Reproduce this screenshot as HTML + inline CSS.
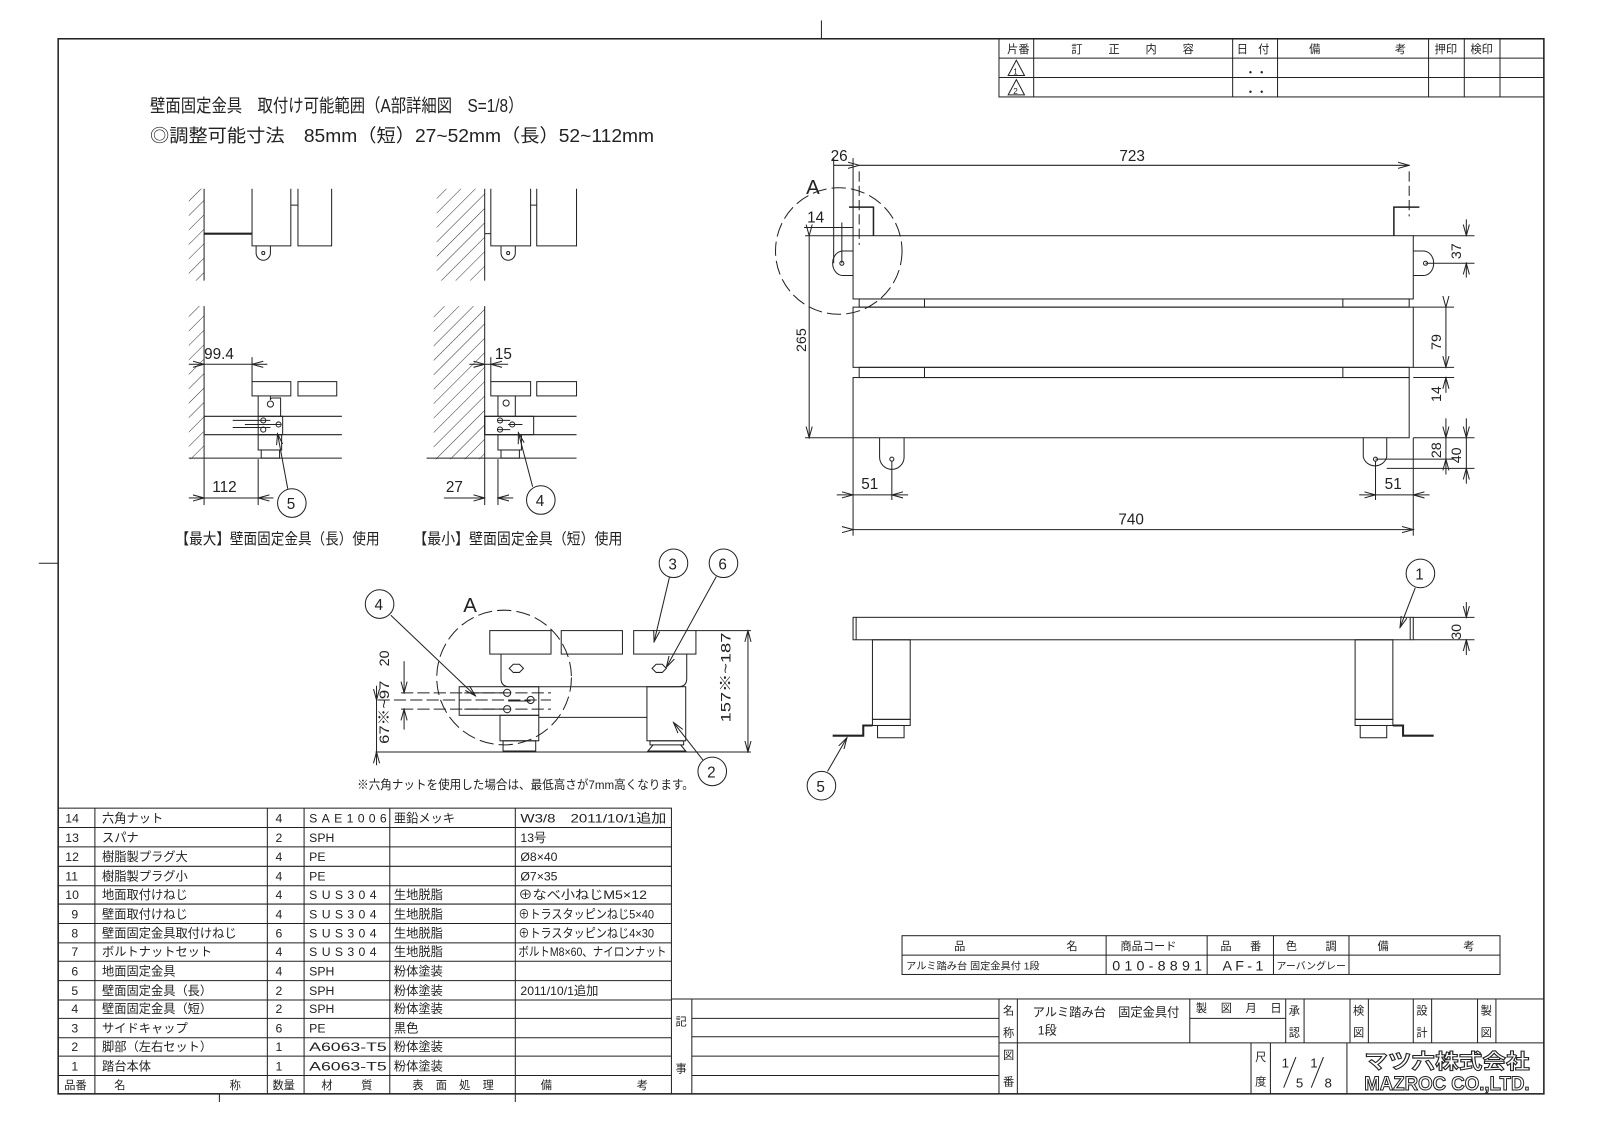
<!DOCTYPE html>
<html><head><meta charset="utf-8"><style>
html,body{margin:0;padding:0;background:#fff;}
svg{display:block;}
text{font-family:"Liberation Sans","Noto Sans CJK JP",sans-serif;fill:#222;}
</style></head><body>
<svg width="1600" height="1131" viewBox="0 0 1568 1108.4" preserveAspectRatio="none" xmlns="http://www.w3.org/2000/svg">
<defs>
<marker id="a" markerWidth="12" markerHeight="8" refX="11" refY="4" orient="auto" markerUnits="userSpaceOnUse"><path d="M0,1 L11,4 L0,7" fill="none" stroke="#222" stroke-width="1"/></marker>
<pattern id="h" width="10" height="10" patternUnits="userSpaceOnUse" patternTransform="rotate(45)"><line x1="0" y1="0" x2="0" y2="10" stroke="#333" stroke-width="1"/></pattern>
</defs>
<g stroke="#222" fill="none" stroke-width="1">
<rect x="57" y="38" width="1456" height="1034" stroke-width="1.5"/>
<line x1="38" y1="552" x2="57" y2="552"/>
<line x1="805" y1="20" x2="805" y2="38"/>
<rect x="979" y="38" width="534" height="57"/>
<line x1="979" y1="57" x2="1513" y2="57"/><line x1="979" y1="76" x2="1513" y2="76"/>
<line x1="1013" y1="38" x2="1013" y2="95"/><line x1="1208" y1="38" x2="1208" y2="95"/><line x1="1252" y1="38" x2="1252" y2="95"/><line x1="1400" y1="38" x2="1400" y2="95"/><line x1="1435" y1="38" x2="1435" y2="95"/><line x1="1470" y1="38" x2="1470" y2="95"/>
<path d="M996,59 L988,74 L1004,74 Z"/><path d="M996,78 L988,93 L1004,93 Z"/>
<rect x="57" y="792" width="601" height="280"/>
<g>
<line x1="57" y1="811" x2="658" y2="811"/><line x1="57" y1="830" x2="658" y2="830"/><line x1="57" y1="849" x2="658" y2="849"/><line x1="57" y1="868" x2="658" y2="868"/><line x1="57" y1="886" x2="658" y2="886"/><line x1="57" y1="905" x2="658" y2="905"/><line x1="57" y1="924" x2="658" y2="924"/><line x1="57" y1="942" x2="658" y2="942"/><line x1="57" y1="961" x2="658" y2="961"/><line x1="57" y1="980" x2="658" y2="980"/><line x1="57" y1="998" x2="658" y2="998"/><line x1="57" y1="1017" x2="658" y2="1017"/><line x1="57" y1="1035" x2="658" y2="1035"/><line x1="57" y1="1054" x2="658" y2="1054"/>
</g>
<line x1="93" y1="792" x2="93" y2="1072"/><line x1="262" y1="792" x2="262" y2="1072"/><line x1="298" y1="792" x2="298" y2="1072"/><line x1="382" y1="792" x2="382" y2="1072"/><line x1="505" y1="792" x2="505" y2="1072"/>
<line x1="215" y1="1072" x2="215" y2="1080"/><line x1="505" y1="1072" x2="505" y2="1080"/>
<line x1="658" y1="979" x2="979" y2="979"/><line x1="678" y1="979" x2="678" y2="1072"/>
<line x1="678" y1="998" x2="979" y2="998"/><line x1="678" y1="1016" x2="979" y2="1016"/><line x1="678" y1="1035" x2="979" y2="1035"/><line x1="678" y1="1054" x2="979" y2="1054"/>
<rect x="884" y="917" width="586" height="38"/><line x1="884" y1="936" x2="1470" y2="936"/>
<line x1="1084" y1="917" x2="1084" y2="955"/><line x1="1183" y1="917" x2="1183" y2="955"/><line x1="1248" y1="917" x2="1248" y2="955"/><line x1="1322" y1="917" x2="1322" y2="955"/>
<rect x="979" y="979" width="534" height="93"/>
<line x1="979" y1="1022" x2="1513" y2="1022"/>
<line x1="997" y1="979" x2="997" y2="1072"/>
<line x1="1166" y1="979" x2="1166" y2="1022"/><line x1="1166" y1="998" x2="1260" y2="998"/>
<line x1="1260" y1="979" x2="1260" y2="1022"/><line x1="1278" y1="979" x2="1278" y2="1022"/><line x1="1323" y1="979" x2="1323" y2="1022"/><line x1="1341" y1="979" x2="1341" y2="1022"/><line x1="1385" y1="979" x2="1385" y2="1022"/><line x1="1403" y1="979" x2="1403" y2="1022"/><line x1="1448" y1="979" x2="1448" y2="1022"/><line x1="1466" y1="979" x2="1466" y2="1022"/>
<line x1="1226" y1="1022" x2="1226" y2="1072"/><line x1="1245" y1="1022" x2="1245" y2="1072"/><line x1="1320" y1="1022" x2="1320" y2="1072"/>
<line x1="1258" y1="1066" x2="1270" y2="1036"/><line x1="1285" y1="1066" x2="1297" y2="1036"/>

<rect x="185" y="185" width="15" height="90" fill="url(#h)" stroke="none"/>
<line x1="200" y1="185" x2="200" y2="275"/>
<line x1="200" y1="229" x2="247" y2="229" stroke-width="2"/>
<path d="M247,185 V241 H285 V185 M285,201 H292 M292,185 V241 H325 V185" />
<path d="M251,241 V248 A7,7 0 0 0 265,248 V241"/><circle cx="258" cy="248" r="1.5"/>
<rect x="428" y="185" width="47" height="90" fill="url(#h)" stroke="none"/>
<line x1="475" y1="185" x2="475" y2="275"/><line x1="475" y1="229" x2="481" y2="229"/>
<path d="M481,185 V241 H520 V185 M520,201 H526 M526,185 V241 H565 V185"/>
<path d="M491,241 V248 A7,7 0 0 0 505,248 V241"/><circle cx="498" cy="248" r="1.5"/>

<rect x="185" y="300" width="15" height="150" fill="url(#h)" stroke="none"/>
<line x1="200" y1="300" x2="200" y2="450"/>
<line x1="185" y1="449" x2="335" y2="449"/>
<rect x="247" y="374" width="38" height="14"/><rect x="292" y="374" width="38" height="14"/>
<path d="M253,388 V408 M265,388 V392 A2,2 0 0 1 267,390 H275 V408"/>
<circle cx="265" cy="396" r="3"/>
<path d="M200,408 H335 M200,426 H335 M200,408 V426"/>
<rect x="253" y="408" width="24" height="18"/>
<path d="M228,412 H265 M228,419 H265 M240,416 H275"/>
<circle cx="258" cy="412" r="2.5"/><circle cx="258" cy="421" r="2.5"/><circle cx="273" cy="416" r="2.5"/>
<rect x="253" y="426" width="23" height="15"/><rect x="256" y="441" width="18" height="8"/>
<line x1="185" y1="357" x2="200" y2="357" marker-end="url(#a)"/><line x1="200" y1="357" x2="247" y2="357"/><line x1="262" y1="357" x2="247" y2="357" marker-end="url(#a)"/>
<line x1="247" y1="350" x2="247" y2="374"/>
<line x1="200" y1="450" x2="200" y2="495"/><line x1="253" y1="450" x2="253" y2="495"/>
<line x1="185" y1="488" x2="200" y2="488" marker-end="url(#a)"/><line x1="200" y1="488" x2="253" y2="488"/><line x1="268" y1="488" x2="253" y2="488" marker-end="url(#a)"/>
<line x1="282" y1="479" x2="272" y2="425" marker-end="url(#a)"/>
<circle cx="286" cy="493" r="14"/>

<rect x="425" y="300" width="50" height="150" fill="url(#h)" stroke="none"/>
<line x1="475" y1="300" x2="475" y2="450"/>
<line x1="418" y1="449" x2="565" y2="449"/>
<rect x="481" y="374" width="39" height="14"/><rect x="526" y="374" width="39" height="14"/>
<path d="M488,388 V408 M505,388 V408"/><circle cx="496" cy="395" r="3"/>
<path d="M475,408 H565 M475,426 H565 M475,408 V426"/>
<rect x="475" y="408" width="48" height="18"/>
<path d="M488,412 H500 M488,421 H500 M498,416 H512"/>
<circle cx="490" cy="412" r="2.5"/><circle cx="490" cy="421" r="2.5"/><circle cx="502" cy="416" r="2.5"/>
<rect x="488" y="426" width="23" height="15"/><rect x="491" y="441" width="18" height="8"/>
<line x1="460" y1="357" x2="475" y2="357" marker-end="url(#a)"/><line x1="498" y1="357" x2="481" y2="357" marker-end="url(#a)"/><line x1="481" y1="350" x2="481" y2="374"/><line x1="475" y1="357" x2="481" y2="357"/>
<line x1="475" y1="450" x2="475" y2="495"/><line x1="488" y1="450" x2="488" y2="495"/>
<line x1="435" y1="488" x2="475" y2="488" marker-end="url(#a)"/><line x1="503" y1="488" x2="488" y2="488" marker-end="url(#a)"/>
<line x1="522" y1="477" x2="508" y2="424" marker-end="url(#a)"/>
<circle cx="530" cy="490" r="14"/>

<rect x="480" y="618" width="60" height="23"/><rect x="550" y="618" width="60" height="23"/><rect x="621" y="618" width="61" height="23"/>
<path d="M491,641 V665 Q491,673 499,673 H665 Q673,673 673,665 V641"/>
<path d="M499,655 l4,-4 h6 l4,4 l-4,4 h-6z"/><path d="M639,655 l4,-4 h6 l4,4 l-4,4 h-6z"/>
<rect x="450" y="673" width="78" height="28"/>
<line x1="528" y1="703" x2="634" y2="703"/>
<rect x="490" y="701" width="38" height="25"/><rect x="493" y="726" width="32" height="10"/>
<rect x="634" y="673" width="38" height="53"/><rect x="637" y="726" width="33" height="4"/><path d="M640,730 L635,736 H672 L667,730"/>
<line x1="368" y1="737" x2="736" y2="737"/><line x1="682" y1="618" x2="736" y2="618"/>
<path d="M455,679 H494 M455,695 H494 M498,687 H520"/>
<circle cx="497" cy="679" r="3.5"/><circle cx="520" cy="686" r="3.5"/><circle cx="497" cy="695" r="3.5"/>
<line x1="393" y1="679" x2="540" y2="679" stroke-dasharray="12,4"/><line x1="393" y1="695" x2="540" y2="695" stroke-dasharray="12,4"/><line x1="370" y1="686" x2="540" y2="686" stroke-dasharray="12,4"/>
<circle cx="494" cy="664" r="66" stroke-dasharray="14,5"/>
<line x1="396" y1="648" x2="396" y2="679" marker-end="url(#a)"/><line x1="396" y1="715" x2="396" y2="695" marker-end="url(#a)"/>
<line x1="369" y1="686" x2="369" y2="737"/><line x1="369" y1="672" x2="369" y2="686" marker-end="url(#a)"/><line x1="369" y1="750" x2="369" y2="737" marker-end="url(#a)"/>
<line x1="733" y1="678" x2="733" y2="618" marker-end="url(#a)"/><line x1="733" y1="678" x2="733" y2="737" marker-end="url(#a)"/>
<line x1="383" y1="603" x2="466" y2="682" marker-end="url(#a)"/><circle cx="372" cy="592" r="14"/>
<line x1="656" y1="566" x2="641" y2="629" marker-end="url(#a)"/><circle cx="660" cy="552" r="14"/>
<line x1="702" y1="565" x2="653" y2="654" marker-end="url(#a)"/><circle cx="709" cy="552" r="14"/>
<line x1="689" y1="745" x2="660" y2="708" marker-end="url(#a)"/><circle cx="698" cy="756" r="14"/>

<rect x="836" y="231" width="549" height="62"/>
<rect x="842" y="293" width="539" height="8"/><line x1="906" y1="293" x2="906" y2="301"/><line x1="1316" y1="293" x2="1316" y2="301"/>
<rect x="836" y="301" width="549" height="59"/>
<rect x="842" y="360" width="539" height="10"/><line x1="906" y1="360" x2="906" y2="370"/><line x1="1316" y1="360" x2="1316" y2="370"/>
<rect x="836" y="370" width="545" height="59"/>
<path d="M832,203 H856 V231" stroke-width="1.5"/><path d="M1366,231 V203 H1391" stroke-width="1.5"/>
<line x1="842" y1="168" x2="842" y2="240" stroke-dasharray="10,4"/><line x1="1381" y1="168" x2="1381" y2="212" stroke-dasharray="10,4"/>
<path d="M836,246 H826 A10,12 0 0 0 826,270 H836"/><circle cx="825" cy="258" r="2"/>
<path d="M1385,246 H1395 A10,12 0 0 1 1395,270 H1385"/><circle cx="1397" cy="258" r="2"/>
<path d="M862,429 V448 A12,12 0 0 0 886,448 V429"/><circle cx="874" cy="450" r="2"/>
<path d="M1336,429 V448 A12,12 0 0 0 1359,448 V429"/><circle cx="1348" cy="450" r="2"/>
<circle cx="822" cy="246" r="62" stroke-dasharray="14,5"/>
<line x1="817" y1="155" x2="817" y2="258"/><line x1="836" y1="155" x2="836" y2="231"/>
<line x1="817" y1="162" x2="836" y2="162"/><line x1="842" y1="162" x2="1381" y2="162" marker-start="url(#a)" marker-end="url(#a)"/>
<line x1="788" y1="223" x2="836" y2="223"/><line x1="825" y1="218" x2="825" y2="258"/>
<line x1="789" y1="231" x2="836" y2="231"/><line x1="789" y1="429" x2="836" y2="429"/>
<line x1="793" y1="231" x2="793" y2="429" marker-start="url(#a)" marker-end="url(#a)"/>
<line x1="1385" y1="231" x2="1445" y2="231"/><line x1="1397" y1="258" x2="1445" y2="258"/>
<line x1="1437" y1="215" x2="1437" y2="231" marker-end="url(#a)"/><line x1="1437" y1="272" x2="1437" y2="258" marker-end="url(#a)"/>
<line x1="1385" y1="301" x2="1425" y2="301"/><line x1="1385" y1="360" x2="1425" y2="360"/><line x1="1385" y1="370" x2="1425" y2="370"/>
<line x1="1417" y1="301" x2="1417" y2="360" marker-start="url(#a)" marker-end="url(#a)"/>
<line x1="1417" y1="385" x2="1417" y2="370" marker-end="url(#a)"/>
<line x1="1385" y1="429" x2="1445" y2="429"/><line x1="1348" y1="450" x2="1425" y2="450"/><line x1="1359" y1="459" x2="1445" y2="459"/>
<line x1="1417" y1="410" x2="1417" y2="429" marker-end="url(#a)"/><line x1="1417" y1="429" x2="1417" y2="450"/><line x1="1417" y1="465" x2="1417" y2="450" marker-end="url(#a)"/>
<line x1="1437" y1="410" x2="1437" y2="429" marker-end="url(#a)"/><line x1="1437" y1="429" x2="1437" y2="459"/><line x1="1437" y1="474" x2="1437" y2="459" marker-end="url(#a)"/>
<line x1="836" y1="429" x2="836" y2="525"/><line x1="874" y1="452" x2="874" y2="490"/><line x1="1348" y1="452" x2="1348" y2="490"/><line x1="1385" y1="429" x2="1385" y2="525"/>
<line x1="820" y1="485" x2="836" y2="485" marker-end="url(#a)"/><line x1="890" y1="485" x2="874" y2="485" marker-end="url(#a)"/><line x1="836" y1="485" x2="874" y2="485"/>
<line x1="1332" y1="485" x2="1348" y2="485" marker-end="url(#a)"/><line x1="1401" y1="485" x2="1385" y2="485" marker-end="url(#a)"/><line x1="1348" y1="485" x2="1385" y2="485"/>
<line x1="836" y1="519" x2="1385" y2="519" marker-start="url(#a)" marker-end="url(#a)"/>

<rect x="836" y="605" width="549" height="22"/>
<line x1="839" y1="605" x2="839" y2="627"/><line x1="1382" y1="605" x2="1382" y2="627"/>
<rect x="855" y="627" width="37" height="78"/><rect x="855" y="705" width="37" height="6"/>
<rect x="1328" y="627" width="37" height="78"/><rect x="1328" y="705" width="37" height="6"/>
<rect x="860" y="711" width="26" height="12"/><rect x="1333" y="711" width="26" height="12"/>
<path d="M816,721 H846 V711 H855" stroke-width="2"/><path d="M1365,711 H1375 V721 H1405" stroke-width="2"/>
<line x1="1385" y1="605" x2="1445" y2="605"/><line x1="1385" y1="627" x2="1445" y2="627"/>
<line x1="1437" y1="590" x2="1437" y2="605" marker-end="url(#a)"/><line x1="1437" y1="642" x2="1437" y2="627" marker-end="url(#a)"/>
<line x1="1387" y1="576" x2="1372" y2="615" marker-end="url(#a)"/><circle cx="1392" cy="562" r="14"/>
<line x1="811" y1="756" x2="830" y2="723" marker-end="url(#a)"/><circle cx="805" cy="770" r="14"/>
</g>

<g font-size="18">
<text x="147" y="110" textLength="366" lengthAdjust="spacingAndGlyphs">壁面固定金具　取付け可能範囲（A部詳細図　S=1/8）</text>
<text x="147" y="139" textLength="494" lengthAdjust="spacingAndGlyphs">◎調整可能寸法　85mm（短）27~52mm（長）52~112mm</text>
</g>
<g font-size="15">
<text x="172" y="533" textLength="200" lengthAdjust="spacingAndGlyphs">【最大】壁面固定金具（長）使用</text>
<text x="405" y="533" textLength="205" lengthAdjust="spacingAndGlyphs">【最小】壁面固定金具（短）使用</text>
<text x="200" y="352">99.4</text><text x="485" y="352">15</text>
<text x="208" y="482">112</text><text x="437" y="482">27</text>
<text x="281" y="499">5</text><text x="525" y="496">4</text>
<text x="367" y="598">4</text><text x="655" y="558">3</text><text x="704" y="558">6</text><text x="693" y="762">2</text>
<text x="454" y="600" font-size="20">A</text>
<text x="1387" y="568">1</text><text x="800" y="776">5</text>
<text x="1097" y="158">723</text><text x="814" y="158">26</text><text x="791" y="218">14</text>
<text x="790" y="190" font-size="20">A</text>
<text x="1096" y="514">740</text><text x="844" y="479">51</text><text x="1357" y="479">51</text>
</g>
<g font-size="14">
<text transform="translate(790,345) rotate(-90)">265</text>
<text transform="translate(1432,254) rotate(-90)">37</text>
<text transform="translate(1412,343) rotate(-90)">79</text>
<text transform="translate(1412,394) rotate(-90)">14</text>
<text transform="translate(1412,449) rotate(-90)">28</text>
<text transform="translate(1432,454) rotate(-90)">40</text>
<text transform="translate(1432,627) rotate(-90)">30</text>
<text transform="translate(716,708) rotate(-90)" textLength="88" lengthAdjust="spacingAndGlyphs">157※~187</text>
<text transform="translate(381,729) rotate(-90)" textLength="62" lengthAdjust="spacingAndGlyphs">67※~97</text>
<text transform="translate(381,653) rotate(-90)">20</text>
</g>
<text x="350" y="773" font-size="12" textLength="330" lengthAdjust="spacingAndGlyphs">※六角ナットを使用した場合は、最低高さが7mm高くなります。</text>

<g font-size="11">
<text x="987" y="52">片番</text><text x="1050" y="52" textLength="120" lengthAdjust="spacing">訂正内容</text>
<text x="1212" y="52" textLength="32" lengthAdjust="spacing">日付</text><text x="1283" y="52" textLength="95" lengthAdjust="spacing">備考</text>
<text x="1406" y="52">押印</text><text x="1441" y="52">検印</text>
<text x="993" y="73" font-size="8">1</text><text x="993" y="92" font-size="8">2</text>
<text x="1220" y="75">・・</text><text x="1220" y="94">・・</text>
</g>

<g font-size="12">
<text x="64" y="806">14</text><text x="100" y="806">六角ナット</text><text x="270" y="806">4</text><text x="303" y="806" textLength="76" lengthAdjust="spacing">SAE1006</text><text x="386" y="806">亜鉛メッキ</text><text x="510" y="806" textLength="143" lengthAdjust="spacingAndGlyphs">W3/8　2011/10/1追加</text>
<text x="64" y="825">13</text><text x="100" y="825">スパナ</text><text x="270" y="825">2</text><text x="303" y="825">SPH</text><text x="510" y="825">13号</text>
<text x="64" y="844">12</text><text x="100" y="844">樹脂製プラグ大</text><text x="270" y="844">4</text><text x="303" y="844">PE</text><text x="510" y="844">Ø8×40</text>
<text x="64" y="863">11</text><text x="100" y="863">樹脂製プラグ小</text><text x="270" y="863">4</text><text x="303" y="863">PE</text><text x="510" y="863">Ø7×35</text>
<text x="64" y="881">10</text><text x="100" y="881">地面取付けねじ</text><text x="270" y="881">4</text><text x="303" y="881" textLength="66" lengthAdjust="spacing">SUS304</text><text x="386" y="881">生地脱脂</text><text x="508" y="881" textLength="126" lengthAdjust="spacingAndGlyphs">⊕なべ小ねじM5×12</text>
<text x="70" y="900">9</text><text x="100" y="900">壁面取付けねじ</text><text x="270" y="900">4</text><text x="303" y="900" textLength="66" lengthAdjust="spacing">SUS304</text><text x="386" y="900">生地脱脂</text><text x="508" y="900" textLength="133" lengthAdjust="spacingAndGlyphs">⊕トラスタッピンねじ5×40</text>
<text x="70" y="919">8</text><text x="100" y="919">壁面固定金具取付けねじ</text><text x="270" y="919">6</text><text x="303" y="919" textLength="66" lengthAdjust="spacing">SUS304</text><text x="386" y="919">生地脱脂</text><text x="508" y="919" textLength="133" lengthAdjust="spacingAndGlyphs">⊕トラスタッピンねじ4×30</text>
<text x="70" y="937">7</text><text x="100" y="937">ボルトナットセット</text><text x="270" y="937">4</text><text x="303" y="937" textLength="66" lengthAdjust="spacing">SUS304</text><text x="386" y="937">生地脱脂</text><text x="508" y="937" textLength="145" lengthAdjust="spacingAndGlyphs">ボルトM8×60、ナイロンナット</text>
<text x="70" y="956">6</text><text x="100" y="956">地面固定金具</text><text x="270" y="956">4</text><text x="303" y="956">SPH</text><text x="386" y="956">粉体塗装</text>
<text x="70" y="975">5</text><text x="100" y="975">壁面固定金具（長）</text><text x="270" y="975">2</text><text x="303" y="975">SPH</text><text x="386" y="975">粉体塗装</text><text x="510" y="975">2011/10/1追加</text>
<text x="70" y="993">4</text><text x="100" y="993">壁面固定金具（短）</text><text x="270" y="993">2</text><text x="303" y="993">SPH</text><text x="386" y="993">粉体塗装</text>
<text x="70" y="1012">3</text><text x="100" y="1012">サイドキャップ</text><text x="270" y="1012">6</text><text x="303" y="1012">PE</text><text x="386" y="1012">黒色</text>
<text x="70" y="1030">2</text><text x="100" y="1030">脚部（左右セット）</text><text x="270" y="1030">1</text><text x="303" y="1030" textLength="76" lengthAdjust="spacingAndGlyphs">A6063-T5</text><text x="386" y="1030">粉体塗装</text>
<text x="70" y="1049">1</text><text x="100" y="1049">踏台本体</text><text x="270" y="1049">1</text><text x="303" y="1049" textLength="76" lengthAdjust="spacingAndGlyphs">A6063-T5</text><text x="386" y="1049">粉体塗装</text>
</g>
<g font-size="11">
<text x="63" y="1067">品番</text><text x="112" y="1067">名</text><text x="225" y="1067">称</text><text x="267" y="1067">数量</text><text x="315" y="1067" textLength="50" lengthAdjust="spacing">材質</text><text x="404" y="1067" textLength="80" lengthAdjust="spacing">表面処理</text><text x="530" y="1067" textLength="105" lengthAdjust="spacing">備考</text>
<text x="662" y="1005">記</text><text x="662" y="1051">事</text>
<text x="935" y="931">品</text><text x="1045" y="931">名</text>
<text x="1098" y="931">商品コード</text><text x="1196" y="931" textLength="40" lengthAdjust="spacing">品番</text><text x="1260" y="931" textLength="50" lengthAdjust="spacing">色調</text><text x="1350" y="931" textLength="95" lengthAdjust="spacing">備考</text>
<text x="888" y="950" font-size="10">アルミ踏み台 固定金具付 1段</text>
<text x="1090" y="951" font-size="14" textLength="88" lengthAdjust="spacing">010-8891</text>
<text x="1198" y="951" font-size="14" textLength="40" lengthAdjust="spacing">AF-1</text>
<text x="1251" y="950" font-size="10" textLength="68" lengthAdjust="spacingAndGlyphs">アーバングレー</text>
<text x="983" y="994">名</text><text x="983" y="1016">称</text><text x="983" y="1038">図</text><text x="983" y="1064">番</text>
<text x="1012" y="996" font-size="12">アルミ踏み台　固定金具付</text><text x="1017" y="1014" font-size="12">1段</text>
<text x="1172" y="992" textLength="84" lengthAdjust="spacing">製図月日</text>
<text x="1263" y="994">承</text><text x="1263" y="1016">認</text><text x="1326" y="994">検</text><text x="1326" y="1016">図</text>
<text x="1388" y="994">設</text><text x="1388" y="1016">計</text><text x="1451" y="994">製</text><text x="1451" y="1016">図</text>
<text x="1230" y="1040">尺</text><text x="1230" y="1064">度</text>
<text x="1256" y="1046" font-size="13">1</text><text x="1270" y="1066" font-size="13">5</text><text x="1284" y="1046" font-size="13">1</text><text x="1298" y="1066" font-size="13">8</text>
</g>
<text x="1337" y="1047" font-size="20" font-weight="bold" textLength="162" lengthAdjust="spacingAndGlyphs" style="fill:#fff;stroke:#222;stroke-width:1">マツ六株式会社</text>
<text x="1337" y="1068" font-size="19" font-weight="bold" textLength="162" lengthAdjust="spacingAndGlyphs" style="fill:#fff;stroke:#222;stroke-width:1">MAZROC CO.,LTD.</text>
</svg>
</body></html>
